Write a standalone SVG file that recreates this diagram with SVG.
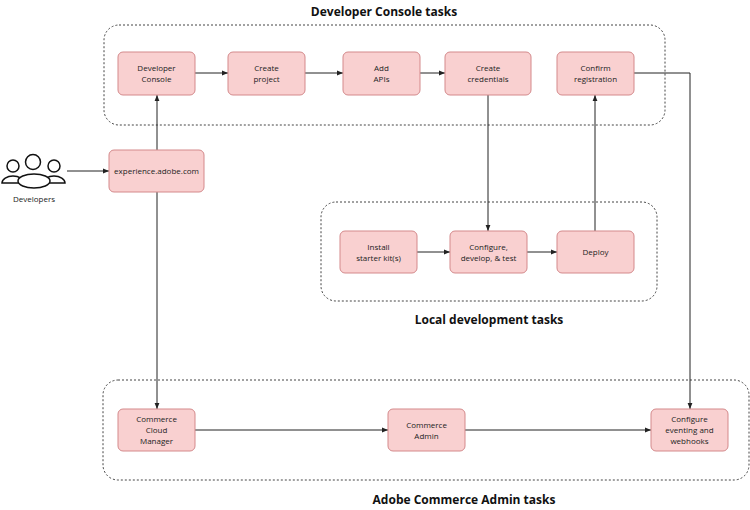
<svg xmlns="http://www.w3.org/2000/svg" width="750" height="510" viewBox="0 0 750 510">
<style>
.n rect{fill:#f9d0d0;stroke:#d4898b;stroke-width:1}
.n text,.lbl{font-family:"Open Sans","Liberation Sans",sans-serif;font-size:8px;fill:#222;text-anchor:middle}
.g{fill:none;stroke:#444;stroke-width:1;stroke-dasharray:2,2}
.t{font-family:"Open Sans","Liberation Sans",sans-serif;font-size:12px;font-weight:bold;fill:#111;text-anchor:middle}
.c path{fill:none;stroke:#222;stroke-width:1;marker-end:url(#a)}
</style>
<defs><marker id="a" viewBox="0 0 10 10" refX="10" refY="5" markerWidth="6" markerHeight="6" orient="auto"><path d="M0,1 L10,5 L0,9 Z" fill="#222"/></marker></defs>
<rect class="g" x="104" y="25" width="561" height="100" rx="15"/>
<rect class="g" x="321" y="202" width="336" height="99" rx="15"/>
<rect class="g" x="103" y="380" width="646" height="100" rx="15"/>
<text class="t" x="384" y="16">Developer Console tasks</text>
<text class="t" x="489" y="324">Local development tasks</text>
<text class="t" x="464" y="504">Adobe Commerce Admin tasks</text>
<g class="c">
<path d="M67,171 H109"/>
<path d="M157,150 V95"/>
<path d="M157,192 V409"/>
<path d="M195,73 H228"/>
<path d="M305,73 H343"/>
<path d="M420,73 H445"/>
<path d="M488,95 V231"/>
<path d="M595,231 V95"/>
<path d="M634,73 H690 V409"/>
<path d="M417,252 H450"/>
<path d="M527,252 H557"/>
<path d="M195,430 H388"/>
<path d="M465,430 H651"/>
</g>
<g id="developers" fill="#fff" stroke="#111" stroke-width="1.5">
<circle cx="13" cy="166" r="6"/><circle cx="54" cy="166" r="6"/>
<path d="M2,183 a11,7 0 0 1 22,0 Z"/><path d="M43,183 a11,7 0 0 1 22,0 Z"/>
<circle cx="33" cy="162" r="7.5"/>
<ellipse cx="34" cy="181" rx="16" ry="7"/>
</g>
<text class="lbl" x="34" y="202">Developers</text>
<g id="exp" class="n"><rect x="109" y="150" width="95" height="42" rx="5"/><text x="156.5" y="174">experience.adobe.com</text></g>
<g id="devconsole" class="n"><rect x="118" y="52" width="77" height="43" rx="5"/><text x="156.5" y="71">Developer</text><text x="156.5" y="82">Console</text></g>
<g id="project" class="n"><rect x="228" y="52" width="77" height="43" rx="5"/><text x="266.5" y="71">Create</text><text x="266.5" y="82">project</text></g>
<g id="apis" class="n"><rect x="343" y="52" width="77" height="43" rx="5"/><text x="381.5" y="71">Add</text><text x="381.5" y="82">APIs</text></g>
<g id="creds" class="n"><rect x="445" y="52" width="86" height="43" rx="5"/><text x="488" y="71">Create</text><text x="488" y="82">credentials</text></g>
<g id="confirm" class="n"><rect x="557" y="52" width="77" height="43" rx="5"/><text x="595.5" y="71">Confirm</text><text x="595.5" y="82">registration</text></g>
<g id="install" class="n"><rect x="340" y="231" width="77" height="42" rx="5"/><text x="378.5" y="250">Install</text><text x="378.5" y="261">starter kit(s)</text></g>
<g id="configure" class="n"><rect x="450" y="231" width="77" height="42" rx="5"/><text x="488.5" y="250">Configure,</text><text x="488.5" y="261">develop, &amp; test</text></g>
<g id="deploy" class="n"><rect x="557" y="231" width="77" height="42" rx="5"/><text x="595.5" y="255">Deploy</text></g>
<g id="cloud" class="n"><rect x="118" y="409" width="77" height="42" rx="5"/><text x="156.5" y="422">Commerce</text><text x="156.5" y="433">Cloud</text><text x="156.5" y="444">Manager</text></g>
<g id="admin" class="n"><rect x="388" y="409" width="77" height="42" rx="5"/><text x="426.5" y="428">Commerce</text><text x="426.5" y="439">Admin</text></g>
<g id="eventing" class="n"><rect x="651" y="409" width="77" height="42" rx="5"/><text x="689.5" y="422">Configure</text><text x="689.5" y="433">eventing and</text><text x="689.5" y="444">webhooks</text></g>
</svg>
